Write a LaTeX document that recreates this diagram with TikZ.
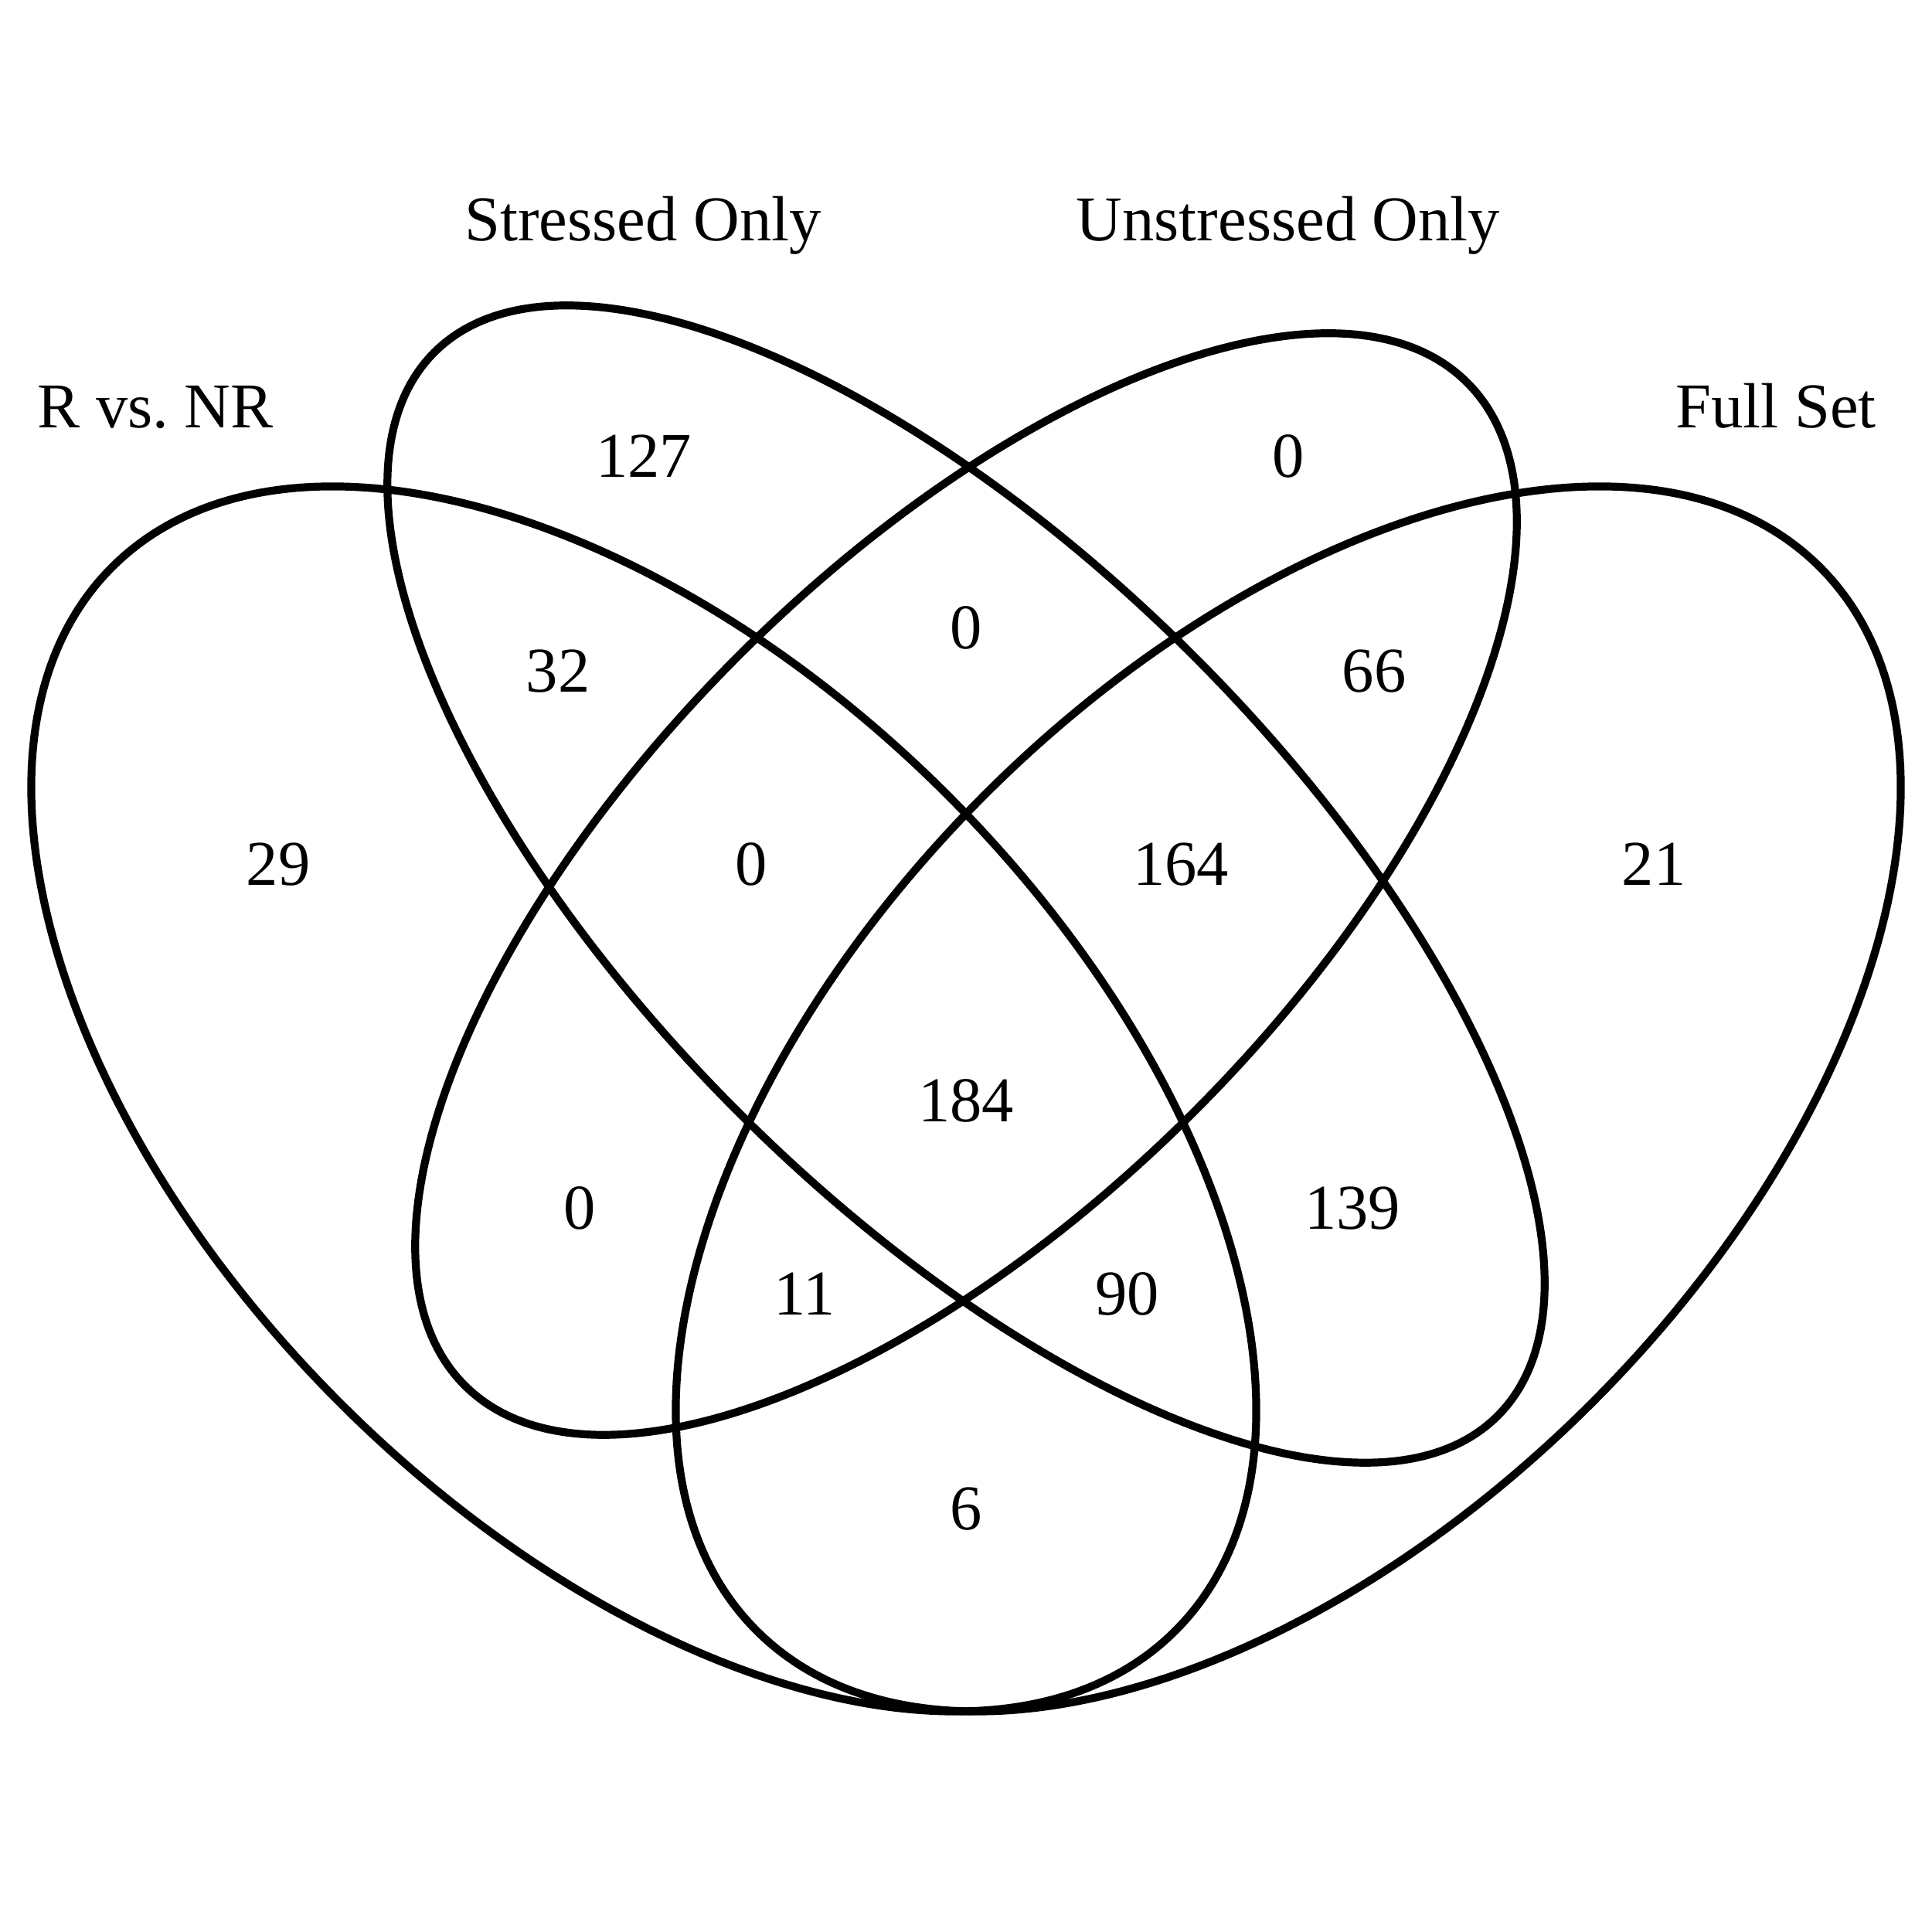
\documentclass[tikz,border=0pt]{standalone}
\usepackage{fontspec}
\setmainfont{Liberation Serif}
\frenchspacing
\begin{document}
\begin{tikzpicture}[
  setline/.style={line width=2.9pt, draw=black},
  lbl/.style={anchor=base, inner sep=0pt, font=\fontsize{23.5pt}{28pt}\selectfont}
]
\useasboundingbox (0,0) rectangle (25,25);
% ellipse centres
\coordinate (cR) at (8.33,10.78);
\coordinate (cF) at (16.67,10.78);
\coordinate (cM) at (12.5,13.56);
% ellipses
\draw[setline, rotate around={-45:(cR)}] (cR) ellipse [x radius=9.73, y radius=5.56];
\draw[setline, rotate around={45:(cF)}] (cF) ellipse [x radius=9.73, y radius=5.56];
\draw[setline, rotate around={-45:(cM)}] (cM) ellipse [x radius=9.73, y radius=4.17];
\draw[setline, rotate around={45:(cM)}] (cM) ellipse [x radius=9.174, y radius=4.17];
% set labels
\node[lbl] (tR) at (2.01,19.46) {R vs.\ NR};
\node[lbl] (tS) at (8.32,21.88) {Stressed Only};
\node[lbl] (tU) at (16.67,21.88) {Unstressed Only};
\node[lbl] (tF) at (22.98,19.46) {Full Set};
% area labels
\node[lbl] (a1) at (8.33,18.82) {127};
\node[lbl] (a2) at (12.5,16.60) {0};
\node[lbl] (a3) at (16.67,18.82) {0};
\node[lbl] (a4) at (7.22,16.04) {32};
\node[lbl] (a5) at (9.72,13.54) {0};
\node[lbl] (a6) at (12.5,10.48) {184};
\node[lbl] (a7) at (15.28,13.54) {164};
\node[lbl] (a8) at (17.78,16.04) {66};
\node[lbl] (a9) at (3.60,13.54) {29};
\node[lbl] (a10) at (7.50,9.09) {0};
\node[lbl] (a11) at (10.415,7.98) {11};
\node[lbl] (a12) at (12.5,5.20) {6};
\node[lbl] (a13) at (14.585,7.98) {90};
\node[lbl] (a14) at (17.50,9.09) {139};
\node[lbl] (a15) at (21.40,13.54) {21};
\end{tikzpicture}
\end{document}
